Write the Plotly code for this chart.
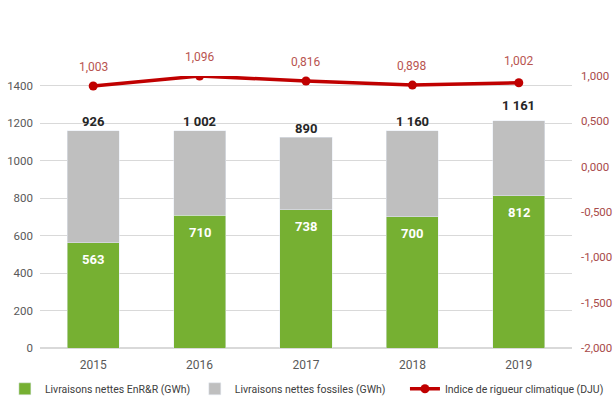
import plotly.graph_objects as go

years = [2015, 2016, 2017, 2018, 2019]
year_labels = ["2015", "2016", "2017", "2018", "2019"]
enr = [563, 710, 738, 700, 812]
fossiles = [597, 450, 389, 460, 401]
top_labels = ["926", "1 002", "890", "1 160", "1 161"]
dju = [0.89, 1.00, 0.945, 0.90, 0.925]
dju_labels = ["1,003", "1,096", "0,816", "0,898", "1,002"]

GREEN = "#76B032"
GREY = "#BFBFBF"
RED = "#C00000"
FONT = "Roboto, sans-serif"

fig = go.Figure()
fig.add_trace(go.Bar(x=years, y=enr, name="Livraisons nettes EnR&R (GWh)",
                     marker_color=GREEN, yaxis="y", width=0.49, legend="legend"))
fig.add_trace(go.Bar(x=years, y=fossiles, name="Livraisons nettes fossiles (GWh)",
                     marker_color=GREY, yaxis="y", width=0.49, legend="legend2"))
fig.add_trace(go.Scatter(x=years, y=dju, name="Indice de rigueur climatique (DJU)",
                         mode="lines+markers", yaxis="y2", legend="legend3",
                         line=dict(color=RED, width=3.5),
                         marker=dict(color=RED, size=9)))

annotations = []
for i, y in enumerate(years):
    annotations.append(dict(x=y, y=enr[i], xref="x", yref="y", text=f"<b>{enr[i]}</b>",
                            showarrow=False, yshift=-17, yanchor="middle",
                            font=dict(color="white", size=13, family=FONT)))
    annotations.append(dict(x=y, y=enr[i] + fossiles[i], xref="x", yref="y",
                            text=f"<b>{top_labels[i]}</b>", showarrow=False,
                            yshift=9 if i < 4 else 15, yanchor="middle",
                            font=dict(color="#262626", size=13, family=FONT)))
    annotations.append(dict(x=y, y=dju[i], xref="x", yref="y2", text=dju_labels[i],
                            showarrow=False, yshift=19 if i != 4 else 22, yanchor="middle",
                            font=dict(color="#B85450", size=12, family=FONT)))
annotations.append(dict(x=0.5, y=1.266, xref="paper", yref="paper",
                        text="<b>Evolution des livraisons des réseaux de chaleur</b>",
                        showarrow=False, yanchor="bottom",
                        font=dict(color="#404040", size=21, family=FONT)))

leg_common = dict(orientation="h", y=-0.15, yanchor="middle", xanchor="left",
                  font=dict(size=10.5, color="#404040"), itemwidth=30,
                  bgcolor="rgba(0,0,0,0)")

fig.update_layout(
    barmode="stack",
    width=615, height=405,
    margin=dict(l=40, r=43, t=76, b=57, autoexpand=False),
    paper_bgcolor="white", plot_bgcolor="white",
    font=dict(family=FONT, color="#595959", size=12),
    xaxis=dict(range=[2014.5, 2019.5], tickvals=years, ticktext=year_labels,
               showgrid=False, showline=False, ticks="", zeroline=False,
               ticklabelstandoff=8,
               tickfont=dict(size=12, color="#595959")),
    yaxis=dict(range=[0, 1453], tickvals=[0, 200, 400, 600, 800, 1000, 1200, 1400],
               showgrid=True, gridcolor="#D9D9D9", gridwidth=1, zeroline=True,
               zerolinecolor="#D9D9D9", zerolinewidth=1.5, ticklabelstandoff=6,
               tickfont=dict(size=11.5, color="#595959")),
    yaxis2=dict(range=[-2, 1], overlaying="y", side="right", showgrid=False,
                zeroline=False, tickvals=[-2, -1.5, -1, -0.5, 0, 0.5, 1],
                ticktext=["-2,000", "-1,500", "-1,000", "-0,500", "0,000", "0,500", "1,000"],
                ticklabelstandoff=8,
                tickfont=dict(size=11.5, color="#A84A4A")),
    legend=dict(x=-0.066, **leg_common),
    legend2=dict(x=0.291, **leg_common),
    legend3=dict(x=0.686, **leg_common),
    showlegend=True,
    annotations=annotations,
)

fig.write_html("out.html", config={"displayModeBar": False},
               post_script="document.body.style.margin='0';")
